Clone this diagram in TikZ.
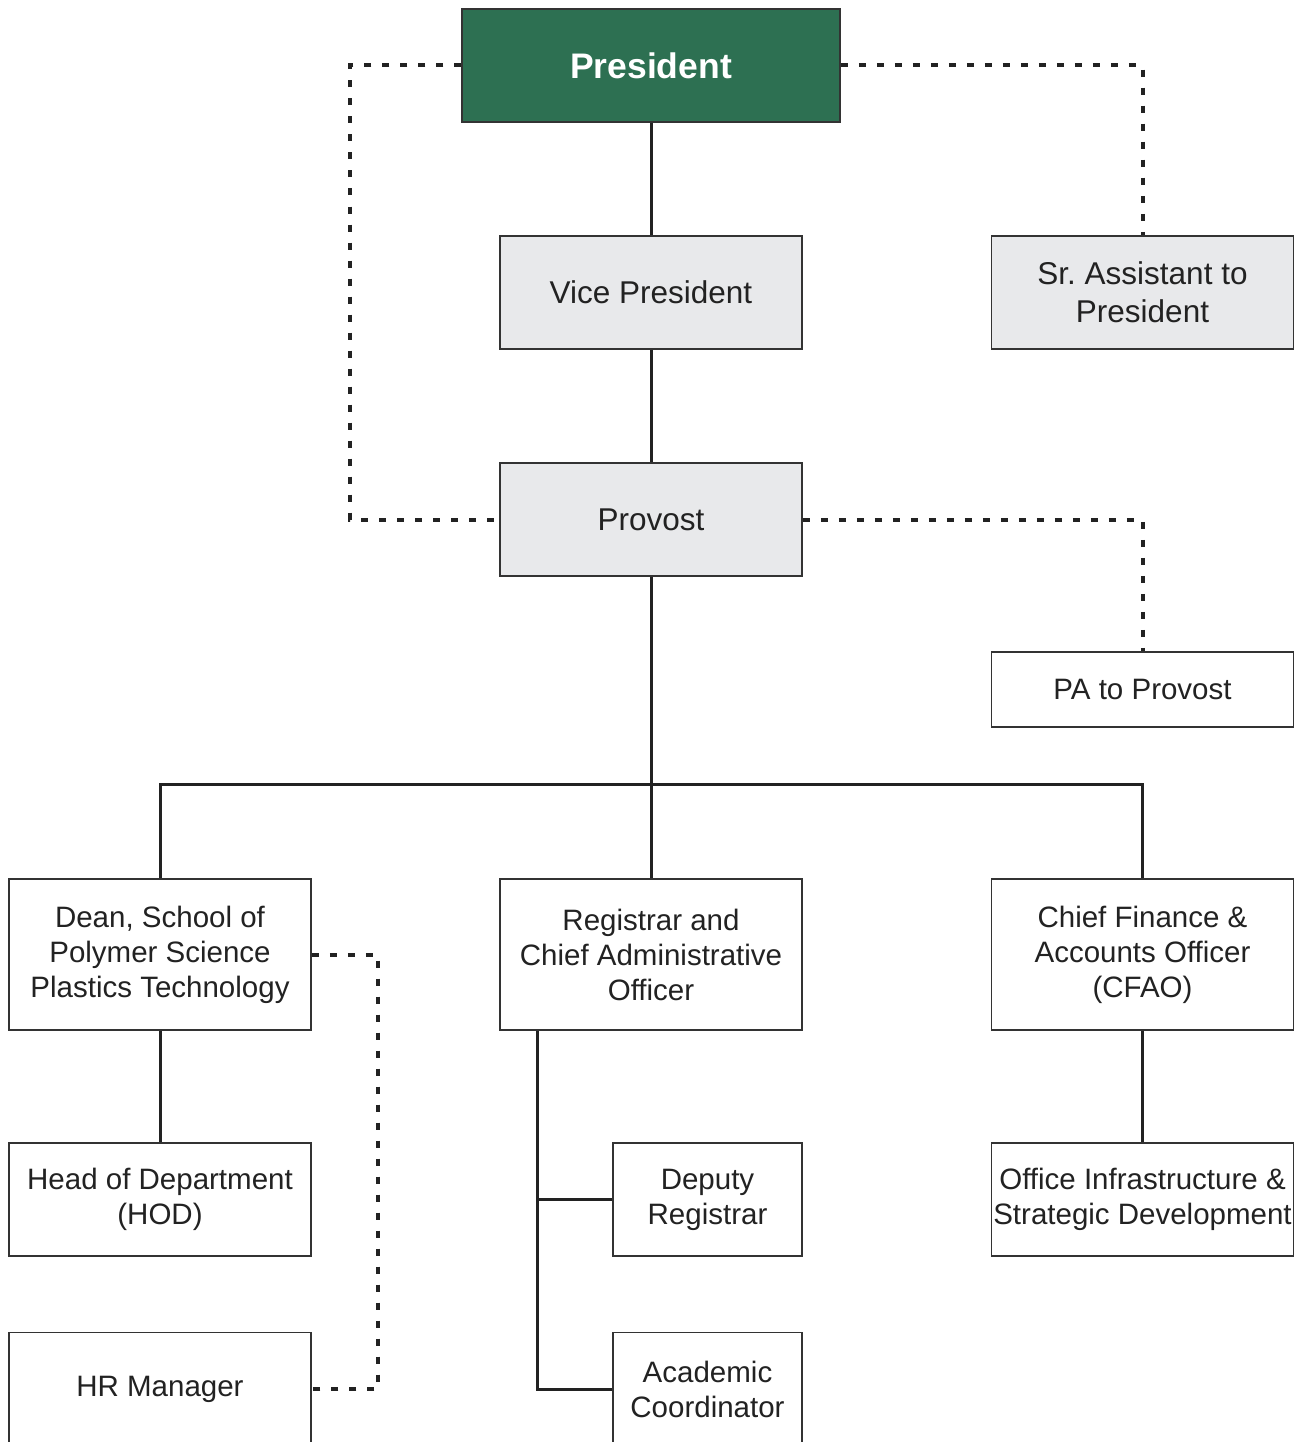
\documentclass[tikz,border=0pt]{standalone}
\usepackage{fontspec}
\setmainfont{Liberation Sans}
\definecolor{pgreen}{HTML}{2D7052}
\definecolor{pgray}{HTML}{E8E9EB}
\definecolor{ink}{HTML}{222222}
\definecolor{edge}{HTML}{333333}
\tikzset{
  box/.style={draw=edge, line width=1.5pt, fill=white, minimum width=302pt, minimum height=113pt,
    inner sep=0pt, align=center, text=ink, font=\fontsize{29.5}{35}\selectfont},
  graybox/.style={box, fill=pgray, font=\fontsize{31.5}{38}\selectfont},
  presbox/.style={box, fill=pgreen, minimum width=378pt, text=white, font=\fontsize{35.5}{42}\selectfont\bfseries},
  solidline/.style={draw=ink, line width=3pt},
  dotline/.style={draw=ink, line width=4pt, dash pattern=on 7pt off 11pt},
}
\begin{document}
\frenchspacing
\begin{tikzpicture}[x=1pt, y=-1pt]
\useasboundingbox (0,0) rectangle (1303,1442);
\clip (0,0) rectangle (1303,1442);
\fill[white] (0,0) rectangle (1303,1442);

\node[presbox] (pres) at (651,65.5) {President};
\node[graybox] (vp) at (651,292.5) {Vice President};
\node[graybox] (sra) at (1142.5,292.5) {Sr.\ Assistant to\\President};
\node[graybox] (prov) at (651,519.5) {Provost};
\node[box, minimum height=75pt] (pa) at (1142.5,689.5) {PA to Provost};
\node[box, minimum height=151pt] (dean) at (160,954.5) {Dean, School of\\Polymer Science\\Plastics Technology};
\node[box, minimum height=151pt] (reg) at (651,954.5) {Registrar and\\Chief Administrative\\Officer};
\node[box, minimum height=151pt] (cfao) at (1142.5,954.5) {Chief Finance \&\\Accounts Officer\\(CFAO)};
\node[box] (hod) at (160,1199.5) {Head of Department\\(HOD)};
\node[box, minimum width=189pt] (dep) at (707.5,1199.5) {Deputy\\Registrar};
\node[box] (oisd) at (1142.5,1199.5) {Office Infrastructure \&\\Strategic Development};
\node[box] (hr) at (160,1389) {HR Manager};
\node[box, minimum width=189pt] (acad) at (707.5,1389) {Academic\\Coordinator};

\coordinate (bus) at (651,784);

% solid connectors
\draw[solidline] (pres.south) -- (vp.north);
\draw[solidline] (vp.south) -- (prov.north);
\draw[solidline] (prov.south) -- (bus);
\draw[solidline] (dean.north) |- (bus) -| (cfao.north);
\draw[solidline] (bus) -- (reg.north);
\draw[solidline] (dean.south) -- (hod.north);
\draw[solidline] (cfao.south) -- (oisd.north);
\draw[solidline] ([xshift=38pt]reg.south west) |- (acad.west);
\draw[solidline] ([xshift=38pt]reg.south west |- dep.west) -- (dep.west);

% dashed connectors
\draw[dotline] (pres.west) -- ++(-111,0) |- (prov.west);
\draw[dotline] (pres.east) -| (sra.north);
\draw[dotline] (prov.east) -| (pa.north);
\draw[dotline] (dean.east) -- ++(66,0) |- (hr.east);
\end{tikzpicture}
\end{document}
